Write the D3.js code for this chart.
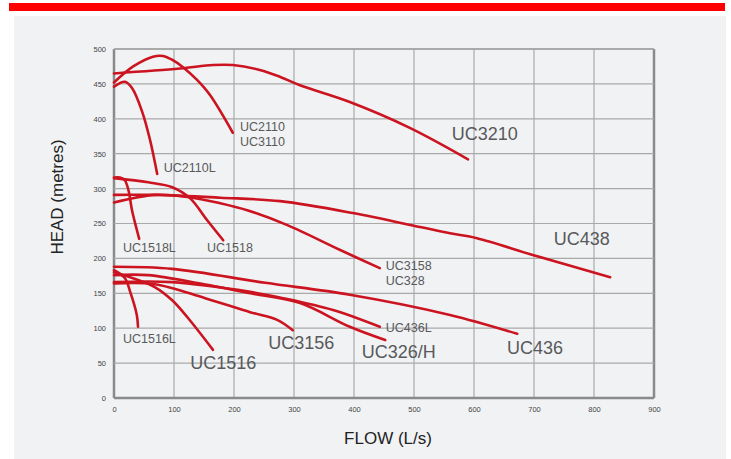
<!DOCTYPE html>
<html><head><meta charset="utf-8">
<script src="https://cdn.jsdelivr.net/npm/d3@7"></script>
<style>body{margin:0;background:#fff}svg{display:block}</style>
</head><body>
<svg id="c" width="731" height="459"></svg>
<script>
const xTicks = [0,100,200,300,400,500,600,700,800,900];
const yTicks = [0,50,100,150,200,250,300,350,400,450,500];

const UC3210 = [[0,465],[110,472],[165,477],[198,477],[243,470],[277,460],[310,448],[393,424],[493,387],[590,342]];
const UC2110 = [[0,452],[32,475],[65,489],[82,490],[98,484],[115,474],[138,456],[160,434],[198,380]];
const UC2110L = [[0,446],[18,453],[30,444],[47,410],[60,370],[72,321]];
const UC1518L = [[0,316],[10,316],[18,312],[24,298],[30,269],[38,241],[42,228]];
const UC1518 = [[0,315],[57,309],[97,302],[127,286],[155,255],[182,226]];
const UC438 = [[0,291],[68,291],[177,287],[277,282],[398,265],[510,245],[560,236],[605,229],[698,205],[827,173]];
const UC3158 = [[0,280],[68,291],[123,288],[177,279],[222,269],[288,248],[377,212],[443,186]];
const UC436 = [[0,188],[97,185],[252,165],[393,148],[560,119],[672,92]];
const UC436L = [[0,166],[97,166],[227,152],[282,143],[365,126],[443,102]];
const UC326H = [[0,176],[57,176],[150,163],[227,150],[310,136],[393,102],[452,83]];
const UC3156 = [[0,164],[68,163],[152,143],[227,123],[272,112],[298,97]];
const UC1516 = [[0,180],[40,169],[68,159],[97,140],[123,115],[165,69]];
const UC1516L = [[0,183],[18,172],[27,152],[38,119],[40,102]];

const curves = [UC3210,UC2110,UC2110L,UC1518L,UC1518,UC438,UC3158,UC436,UC436L,UC326H,UC3156,UC1516,UC1516L];

const labels = [
  {t:"UC3210", x:563, y:370, big:true},
  {t:"UC438", x:733, y:219, big:true},
  {t:"UC436", x:655, y:63, big:true},
  {t:"UC326/H", x:413, y:57, big:true},
  {t:"UC3156", x:257, y:70, big:true},
  {t:"UC1516", x:127, y:41.5, big:true},
  {t:"UC2110", x:210, y:382},
  {t:"UC3110", x:210, y:361},
  {t:"UC2110L", x:83, y:324},
  {t:"UC1518L", x:15, y:209},
  {t:"UC1518", x:155, y:209},
  {t:"UC3158", x:453, y:183},
  {t:"UC328", x:453, y:162},
  {t:"UC436L", x:453, y:94.5},
  {t:"UC1516L", x:15, y:79}
];

const svg = d3.select("#c");
svg.append("rect").attr("x",9).attr("y",3).attr("width",716).attr("height",8).attr("fill","#ff0000");
svg.append("rect").attr("x",14).attr("y",16).attr("width",712).attr("height",443).attr("fill","#f1f2f4");

const x = d3.scaleLinear().domain([0,900]).range([114,654]);
const y = d3.scaleLinear().domain([0,500]).range([398,49]);

const g = svg.append("g");
g.selectAll(".vg").data(xTicks).join("line")
  .attr("x1",d=>x(d)).attr("x2",d=>x(d)).attr("y1",y(0)).attr("y2",y(500))
  .attr("stroke",d=>(d===0||d===900)?"#8a8a8a":"#a9a9a9")
  .attr("stroke-width",d=>(d===0||d===900)?2.5:1.2);
g.selectAll(".hg").data(yTicks).join("line")
  .attr("x1",x(0)).attr("x2",x(900)).attr("y1",d=>y(d)).attr("y2",d=>y(d))
  .attr("stroke",d=>d===0?"#8a8a8a":"#a9a9a9")
  .attr("stroke-width",d=>d===0?2.5:(d===500?1.8:1.2));

const xAxis = d3.axisBottom(x).tickValues(xTicks).tickSize(0).tickPadding(9);
const yAxis = d3.axisLeft(y).tickValues(yTicks).tickSize(0).tickPadding(8);
const ax = svg.append("g").attr("transform",`translate(0,${y(0)})`).call(xAxis);
const ay = svg.append("g").attr("transform",`translate(${x(0)},0)`).call(yAxis);
[ax,ay].forEach(a=>{
  a.select(".domain").remove();
  a.selectAll("text").attr("font-family","Liberation Sans, Arial, sans-serif").attr("font-size",7.5).attr("fill","#444");
});

const line = d3.line().x(d=>x(d[0])).y(d=>y(d[1])).curve(d3.curveCatmullRom.alpha(0.5));
svg.append("g").selectAll("path").data(curves).join("path")
  .attr("d",line).attr("fill","none").attr("stroke","#cc1421")
  .attr("stroke-width",2.6).attr("stroke-linecap","round").attr("stroke-linejoin","round");

svg.append("g").selectAll("text").data(labels).join("text")
  .attr("x",d=>x(d.x)).attr("y",d=>y(d.y))
  .attr("font-family","Liberation Sans, Arial, sans-serif")
  .attr("font-size",d=>d.big?18:12.5)
  .attr("fill","#58595b").text(d=>d.t);

svg.append("text").attr("x",388).attr("y",444).attr("text-anchor","middle")
  .attr("font-family","Liberation Sans, Arial, sans-serif").attr("font-size",17).attr("fill","#222")
  .text("FLOW (L/s)");
svg.append("text").attr("transform","translate(63,197) rotate(-90)").attr("text-anchor","middle")
  .attr("font-family","Liberation Sans, Arial, sans-serif").attr("font-size",17).attr("fill","#222")
  .text("HEAD (metres)");
</script>
</body></html>
